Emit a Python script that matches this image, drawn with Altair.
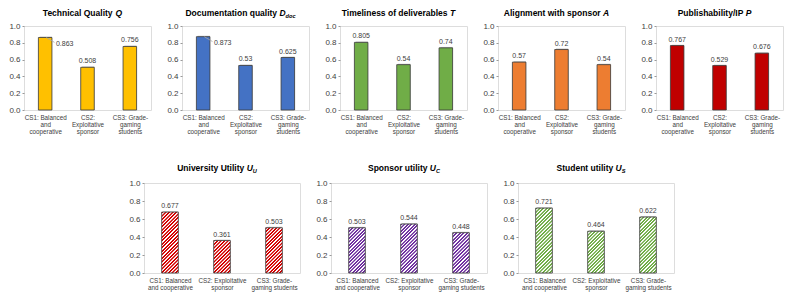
import json
import altair as alt
import pandas as pd

FONT = "Liberation Sans"
TXT = "#404040"
AXC = "#404040"

# ---------------- data ----------------
cases = [0, 1, 2]
top_case_labels = [["CS1: Balanced", "and", "cooperative"],
                   ["CS2:", "Exploitative", "sponsor"],
                   ["CS3: Grade-", "gaming", "students"]]
bottom_case_labels = [["CS1: Balanced", "and cooperative"],
                      ["CS2: Exploitative", "sponsor"],
                      ["CS3: Grade-", "gaming students"]]

quality_q = [0.863, 0.508, 0.756]
documentation_d = [0.873, 0.53, 0.625]
timeliness_t = [0.805, 0.54, 0.74]
alignment_a = [0.57, 0.72, 0.54]
publishability_p = [0.767, 0.529, 0.676]
university_u = [0.677, 0.361, 0.503]
sponsor_u = [0.503, 0.544, 0.448]
student_u = [0.721, 0.464, 0.622]

top_titles = [("Technical Quality ", "Q", ""),
              ("Documentation quality ", "D", "doc"),
              ("Timeliness of deliverables ", "T", ""),
              ("Alignment with sponsor ", "A", ""),
              ("Publishability/IP ", "P", "")]
bottom_titles = [("University Utility ", "U", "U"),
                 ("Sponsor utility ", "U", "C"),
                 ("Student utility ", "U", "S")]
top_values = [quality_q, documentation_d, timeliness_t, alignment_a, publishability_p]
bottom_values = [university_u, sponsor_u, student_u]
top_colors = ["#FFC000", "#4472C4", "#70AD47", "#ED7D31", "#C00000"]
bottom_colors = ["#D40000", "#7030A0", "#70AD47"]
side_label_case = [0, 0, None, None, None]

# Arial/Liberation Sans Bold advance widths (1/1000 em)
W_BOLD = {" ": 278, "/": 278, ".": 278,
          "A": 722, "B": 722, "C": 722, "D": 722, "E": 667, "F": 611, "G": 778, "H": 722,
          "I": 278, "J": 556, "K": 722, "L": 611, "M": 833, "N": 722, "O": 778, "P": 667,
          "Q": 778, "R": 722, "S": 667, "T": 611, "U": 722, "V": 667, "W": 944, "X": 667,
          "Y": 667, "Z": 611,
          "a": 556, "b": 611, "c": 556, "d": 611, "e": 556, "f": 333, "g": 611, "h": 611,
          "i": 278, "j": 278, "k": 556, "l": 278, "m": 889, "n": 611, "o": 611, "p": 611,
          "q": 611, "r": 389, "s": 556, "t": 333, "u": 611, "v": 556, "w": 778, "x": 556,
          "y": 556, "z": 500}


def text_w(s, size):
    return sum(W_BOLD.get(c, 556) for c in s) * size / 1000.0


BAR = 0.32          # bar width as a fraction of a category slot
PERIOD = 3.5        # horizontal hatch period in px
TITLE_FS = 8.5
SUB_FS = 5.6


def title_layers(title, w, ty):
    main, var, sub = title
    wm = text_w(main, TITLE_FS)
    wv = text_w(var, TITLE_FS)
    ws = text_w(sub, SUB_FS)
    x0 = w / 2 - 5 - (wm + wv + ws) / 2
    common = dict(baseline="middle", align="left", font=FONT, fontWeight="bold", color="black")
    layers = [
        alt.Chart(pd.DataFrame({"t": [main]})).mark_text(fontSize=TITLE_FS, **common).encode(
            text="t:N", x=alt.value(x0), y=alt.value(ty)),
        alt.Chart(pd.DataFrame({"t": [var]})).mark_text(fontSize=TITLE_FS, fontStyle="italic", **common).encode(
            text="t:N", x=alt.value(x0 + wm), y=alt.value(ty)),
    ]
    if sub:
        layers.append(
            alt.Chart(pd.DataFrame({"t": [sub]})).mark_text(fontSize=SUB_FS, fontStyle="italic", **common).encode(
                text="t:N", x=alt.value(x0 + wm + wv), y=alt.value(ty + 2.8)))
    return layers


def hatch_stops(color, n):
    stops = []
    for k in range(n):
        for frac, col in ((0.0, color), (0.42, color), (0.56, "#ffffff"), (0.86, "#ffffff")):
            stops.append({"offset": round((k + frac) / n, 5), "color": col})
    stops.append({"offset": 1.0, "color": color})
    return stops


def panel(vals, color, title, labels, w, h, hatched, side, ty):
    df = pd.DataFrame({"case": cases, "val": vals})
    xs = alt.Scale(domain=[-0.5, 2.5], nice=False, zero=False)
    ys = alt.Scale(domain=[0, 1], nice=False, zero=True)
    xaxis = alt.Axis(values=cases, labelExpr=json.dumps(labels) + "[datum.value]",
                     ticks=False, domain=False, grid=False, title=None, labelAngle=0,
                     labelFont=FONT, labelFontSize=6.3, labelLineHeight=7.3, labelPadding=4,
                     labelColor=TXT, labelOverlap=False, labelFlush=False, labelBound=False)
    yaxis = alt.Axis(values=[0, 0.2, 0.4, 0.6, 0.8, 1.0], format=".1f", grid=False, domain=False,
                     ticks=True, tickSize=2, tickColor="#7f7f7f", tickWidth=0.8,
                     labelFont=FONT, labelFontSize=8, labelColor=AXC, labelPadding=2, title=None)
    half = BAR / 2
    base = alt.Chart(df).transform_calculate(lo=f"datum.case - {half}", hi=f"datum.case + {half}", z="0")
    X = alt.X("lo:Q", scale=xs, axis=xaxis)
    Y = alt.Y("val:Q", scale=ys, axis=yaxis)
    enc = dict(x=X, x2="hi:Q", y=Y, y2="z:Q")

    layers = [base.mark_bar(fill="#8c8c8c", opacity=0.5, xOffset=1.3, yOffset=-0.9).encode(**enc)]
    if not hatched:
        layers.append(base.mark_bar(fill=color, stroke="#3a3a3a", strokeWidth=0.8).encode(**enc))
    else:
        bw = BAR * w / 3.0
        for i, v in enumerate(vals):
            bh = v * h
            n = max(1, round((bw + bh) / PERIOD))
            s = (bw + bh) / (bw ** 2 + bh ** 2)
            grad = {"gradient": "linear", "x1": 0, "y1": 0,
                    "x2": round(s * bw, 5), "y2": round(s * bh, 5), "stops": hatch_stops(color, n)}
            layers.append(base.transform_filter(f"datum.case == {i}")
                          .mark_bar(fill=grad, stroke="#3a3a3a", strokeWidth=0.8).encode(**enc))

    text_style = dict(font=FONT, fontSize=7, color=TXT)
    normal = base if side is None else base.transform_filter(f"datum.case != {side}")
    layers.append(normal.mark_text(baseline="bottom", dy=-3, **text_style).encode(
        x=alt.X("case:Q", scale=xs, axis=xaxis), y=Y,
        text=alt.Text("val:Q", format=".3~f")))
    if side is not None:
        sb = base.transform_filter(f"datum.case == {side}")
        layers.append(sb.transform_calculate(a="datum.case + 0.025", b="datum.case + 0.22",
                                             c="datum.val - 0.058")
                      .mark_rule(color="#a6a6a6", strokeWidth=0.8)
                      .encode(x=alt.X("a:Q", scale=xs, axis=xaxis), x2="b:Q", y=Y, y2="c:Q"))
        layers.append(sb.mark_text(align="left", baseline="middle", dx=4, dy=6, **text_style).encode(
            x=alt.X("hi:Q", scale=xs, axis=xaxis), y=Y,
            text=alt.Text("val:Q", format=".3~f")))
    layers += title_layers(title, w, ty)
    return alt.layer(*layers).properties(width=w, height=h)


TW, TH = 127, 84
BW, BH = 156, 90
SPACER = 89   # empty room to the left of the lower row

top = alt.hconcat(*[panel(top_values[i], top_colors[i], top_titles[i], top_case_labels,
                          TW, TH, False, side_label_case[i], -13) for i in range(5)],
                  spacing=31, bounds="flush")

spacer = alt.Chart(pd.DataFrame({"s": [0]})).mark_point(opacity=0).encode(
    x=alt.value(0), y=alt.value(0)
).properties(width=SPACER, height=BH, view={"stroke": "transparent"})

bottom = alt.hconcat(spacer, *[panel(bottom_values[i], bottom_colors[i], bottom_titles[i], bottom_case_labels,
                                     BW, BH, True, None, -15) for i in range(3)],
                     spacing=31, bounds="flush")

chart = alt.vconcat(top, bottom, spacing=27).properties(
    padding={"left": 0, "top": 0, "right": 0, "bottom": 0}
).configure_view(stroke="#7a7a7a", strokeWidth=1).configure(background="white")

chart.save("out.html", embed_options={"renderer": "svg", "actions": False})
